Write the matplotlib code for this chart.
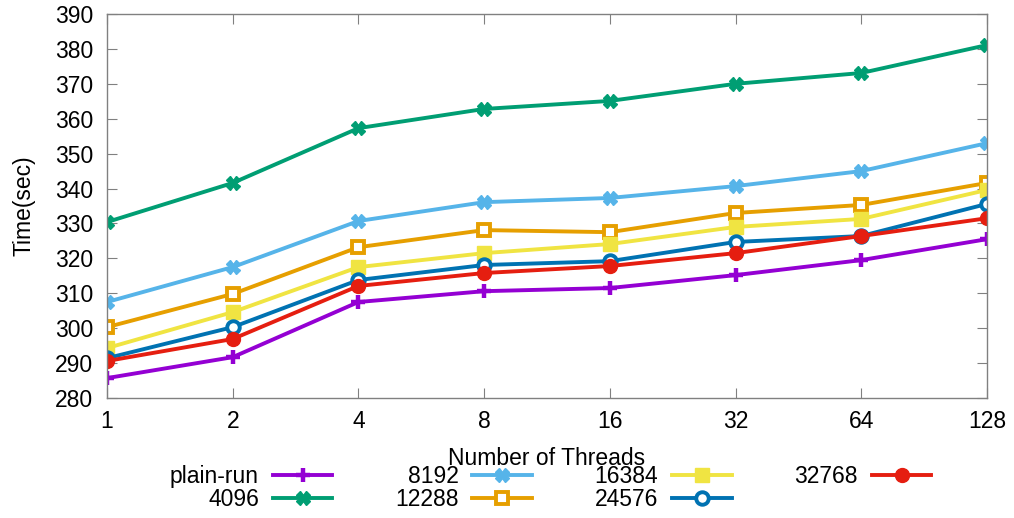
import matplotlib
matplotlib.use('Agg')
import matplotlib.pyplot as plt
import numpy as np

threads = ['1', '2', '4', '8', '16', '32', '64', '128']

labels = ['plain-run', '4096', '8192', '12288', '16384', '24576', '32768']
plain_run = [285.7, 291.7, 307.5, 310.6, 311.5, 315.2, 319.5, 325.5]
t4096 = [330.4, 341.6, 357.3, 362.8, 365.1, 370.0, 373.1, 381.1]
t8192 = [307.5, 317.5, 330.7, 336.1, 337.3, 340.7, 345.0, 353.0]
t12288 = [300.3, 309.8, 323.2, 328.1, 327.5, 333.0, 335.3, 341.6]
t16384 = [294.3, 304.6, 317.5, 321.5, 324.1, 329.0, 331.3, 339.6]
t24576 = [291.4, 300.3, 313.8, 318.1, 319.2, 324.7, 326.4, 335.6]
t32768 = [290.6, 296.9, 312.1, 315.8, 317.8, 321.5, 326.4, 331.5]

series = [plain_run, t4096, t8192, t12288, t16384, t24576, t32768]
colors = ['#9400d3', '#009e73', '#56b4e9', '#e69f00', '#f0e442', '#0072b2', '#e51e10']
# marker, size, edge width, filled
styles = [('+', 10, 3.2, True), ('X', 10, 1, True), ('X', 10, 1, True),
          ('s', 9, 2.8, False), ('s', 10, 1, True), ('o', 9, 2.8, False),
          ('o', 10, 1, True)]

plt.rcParams['font.family'] = ['Liberation Sans', 'DejaVu Sans']
fs = 16.5
fig = plt.figure(figsize=(10.14, 5.18), dpi=100)
ax = fig.add_axes([107 / 1014, 1 - 398 / 518, 880 / 1014, 384 / 518])

x = np.arange(len(threads))
for ys, lab, c, (m, ms, mew, f) in zip(series, labels, colors, styles):
    ax.plot(x, ys, color=c, lw=2.8, marker=m, markersize=ms,
            markerfacecolor=c if f else 'white', markeredgecolor=c,
            markeredgewidth=mew, label=lab)

ax.set_xlim(0, len(threads) - 1)
ax.set_ylim(280, 390)
ax.set_xticks(x)
ax.set_xticklabels(threads)
ax.set_yticks(np.arange(280, 391, 10))
ax.tick_params(direction='in', length=7.5, color='#808080', labelsize=fs,
               top=True, right=True)
ax.tick_params(axis='x', pad=9)
ax.tick_params(axis='y', pad=10)
for s in ax.spines.values():
    s.set_color('#808080')
    s.set_linewidth(1)
ax.set_xlabel('Number of Threads', fontsize=fs, labelpad=10)
ax.set_ylabel('Time(sec)', fontsize=fs, labelpad=14)

ax.legend(loc='upper left', bbox_to_anchor=(63 / 880, -0.175), ncol=4,
          frameon=False, markerfirst=False, fontsize=fs, handlelength=2.6,
          columnspacing=2.74, labelspacing=0.0, handletextpad=0.6,
          borderaxespad=0, borderpad=0)
for t in ax.get_legend().get_texts():
    t.set_ha('right')

fig.savefig('out.png', dpi=100)
